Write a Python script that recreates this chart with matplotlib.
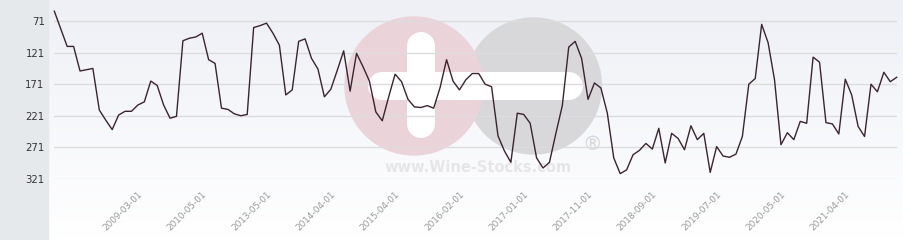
import numpy as np
import matplotlib
matplotlib.use("Agg")
import matplotlib.pyplot as plt
import matplotlib.transforms as mtransforms
from matplotlib.patches import Circle, Rectangle

# rank per month (lower = better, axis is reversed)
ranks = [55, 83, 111, 111, 150, 148, 146, 212, 228, 243,
         220, 214, 214, 204, 199, 166, 173, 204, 225, 222,
         102, 98, 96, 90, 132, 138, 209, 211, 218, 221,
         219, 81, 78, 74, 90, 109, 188, 180, 103, 99,
         130, 147, 191, 179, 149, 118, 182, 122, 143, 166,
         215, 229, 191, 155, 167, 195, 207, 208, 205, 209,
         176, 132, 166, 180, 164, 154, 154, 171, 175, 253,
         277, 295, 217, 219, 233, 288, 304, 295, 249, 205,
         112, 103, 130, 195, 169, 177, 217, 288, 313, 307,
         283, 276, 265, 274, 241, 296, 249, 257, 275, 237,
         259, 249, 311, 270, 285, 287, 282, 254, 171, 162,
         76, 105, 164, 267, 248, 259, 230, 233, 128, 136,
         232, 234, 250, 163, 188, 238, 254, 171, 183, 152,
         167, 160]
tick_pos = [13, 23, 33, 43, 53, 63, 73, 83, 93, 103, 113, 123]
tick_labels = ["2009-03-01", "2010-05-01", "2013-05-01", "2014-04-01",
               "2015-04-01", "2016-02-01", "2017-01-01", "2017-11-01",
               "2018-09-01", "2019-07-01", "2020-05-01", "2021-04-01"]
y_ticks = [71, 121, 171, 221, 271, 321]

W, H = 904, 240
fig = plt.figure(figsize=(W / 100, H / 100), dpi=100)

# background in pixel coordinates
bg = fig.add_axes([0, 0, 1, 1])
bg.set_xlim(0, W)
bg.set_ylim(H, 0)
bg.axis("off")
grad = np.linspace(0, 1, 200)[:, None]
c_top = np.array([0.933, 0.941, 0.965])
c_bot = np.array([1.0, 1.0, 1.0])
img = c_top + (c_bot - c_top) * grad[..., None]
img = np.repeat(img, 2, axis=1)
bg.imshow(img, extent=[0, W, H, 0], aspect="auto", zorder=0)
bg.add_patch(Rectangle((0, 0), 48.5, H, color="#e6e9ec", zorder=1))

# watermark
bg.add_patch(Circle((533.5, 86), 68, color="#d8d8db", zorder=2))
bg.add_patch(Circle((414, 86), 69, color="#ebd3da", zorder=3))
bar_w = 28 * 72 / 100
bg.plot([382, 569], [86, 86], color="white", lw=bar_w, solid_capstyle="round", zorder=4)
bg.plot([421, 421], [46, 124], color="white", lw=bar_w, solid_capstyle="round", zorder=4)
bg.text(478, 167, "www.Wine-Stocks.com", ha="center", va="center",
        fontsize=10.5, fontweight="bold", color="#e6e6e9", zorder=2)
bg.text(592, 145, "\u00ae", ha="center", va="center", fontsize=14,
        color="#d8d8db", zorder=2)

ax = fig.add_axes([54.3 / W, 61.3 / H, (896.7 - 54.3) / W, 178.7 / H])
ax.patch.set_alpha(0)
x = np.arange(len(ranks))
ax.plot(x, ranks, color="#3a2430", lw=1, zorder=5, clip_on=False)
ax.set_xlim(0, len(ranks) - 1)
ax.set_ylim(321, 37.3)
ax.set_yticks(y_ticks)
ax.set_yticklabels([str(v) for v in y_ticks], fontsize=7.3, color="#333333")
ax.set_xticks(tick_pos)
ax.set_xticklabels(tick_labels, rotation=45, ha="right", va="top",
                   rotation_mode="anchor", fontsize=6.4, color="#999999")
shift = mtransforms.ScaledTranslation(-4 / 100, 0, fig.dpi_scale_trans)
for lab in ax.get_xticklabels():
    lab.set_transform(lab.get_transform() + shift)
ax.tick_params(axis="y", length=0, pad=7)
ax.tick_params(axis="x", length=0, pad=8)
ax.grid(axis="y", color="#dcdcdc", lw=1, zorder=1)
for s in ax.spines.values():
    s.set_visible(False)

fig.savefig("out.png", dpi=100)
